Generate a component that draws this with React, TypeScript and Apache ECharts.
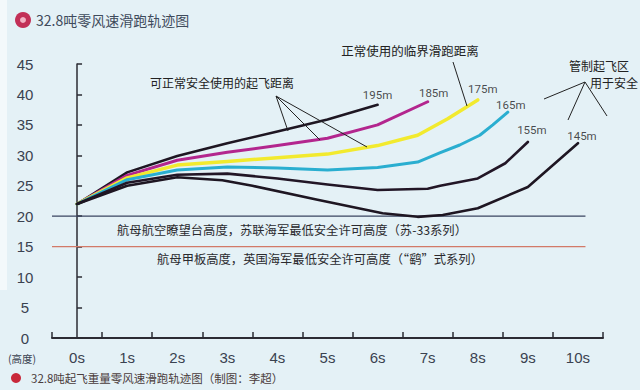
import React, { useEffect, useRef } from "react";
import * as echarts from "echarts";

// ---- data ----
const timeLabels = ["0s", "1s", "2s", "3s", "4s", "5s", "6s", "7s", "8s", "9s", "10s"];
const yMin = 0;
const yMax = 45;
const yStep = 5;

// [time (s), height]
const track195 = [[0, 22], [1, 27.2], [2, 29.9], [3, 32.0], [4, 33.9], [5, 35.9], [6, 38.3]];
const track185 = [[0, 22], [1, 26.7], [2, 29.2], [3, 30.5], [4, 31.6], [5, 32.8], [6, 35.0], [7, 38.8]];
const track175 = [[0, 22], [1, 26.3], [2, 28.4], [3, 29.0], [4, 29.6], [5, 30.2], [6, 31.6], [6.8, 33.3], [7.4, 36.0], [8, 39.1]];
const track165 = [[0, 22], [1, 26.0], [2, 27.6], [3, 28.1], [4, 27.9], [5, 27.6], [6, 28.0], [6.8, 28.9], [7.24, 30.4], [7.64, 31.7], [8.04, 33.3], [8.3, 35.0], [8.6, 37.1]];
const track155 = [[0, 22], [1, 25.5], [2, 26.8], [3, 27.0], [4, 26.2], [5, 25.2], [6, 24.3], [7, 24.5], [7.25, 25.0], [8, 26.2], [8.55, 28.7], [9, 32.2]];
const track145 = [[0, 22], [1, 25.0], [2, 26.4], [2.9, 25.9], [3.5, 25.0], [4.8, 22.7], [6.1, 20.5], [6.8, 19.9], [7.3, 20.2], [8, 21.3], [9, 24.8], [10, 32.0]];
const trackNames = ["195m", "185m", "175m", "165m", "155m", "145m"];

const refHeights = [20, 15];
const refStart = -0.5;
const refEnd = 10.15;
const refTexts = [
  "航母航空瞭望台高度，苏联海军最低安全许可高度（苏-33系列）",
  "航母甲板高度，英国海军最低安全许可高度（“鹞”式系列）",
];

const titleText = "32.8吨零风速滑跑轨迹图";
const captionText = "32.8吨起飞重量零风速滑跑轨迹图（制图：李超）";
const noteSafe = "可正常安全使用的起飞距离";
const noteCritical = "正常使用的临界滑跑距离";
const noteControl1 = "管制起飞区";
const noteControl2 = "用于安全";
const yUnit = "(高度)";

export default function App() {
  const ref = useRef<HTMLDivElement>(null);

  useEffect(() => {
    if (!ref.current) return;
    const chart = echarts.init(ref.current, null, { renderer: "svg" });

    const tracks = [
      { data: track195, color: "#1e1622", width: 2.6, offset: [0, 2] },
      { data: track185, color: "#b3268e", width: 3, offset: [6, 3] },
      { data: track175, color: "#f2ea2e", width: 3.5, offset: [5, 1] },
      { data: track165, color: "#2aaed0", width: 3, offset: [3, 4] },
      { data: track155, color: "#221626", width: 2.6, offset: [4, 0] },
      { data: track145, color: "#1e1622", width: 2.6, offset: [4, 4] },
    ];

    const refColors = ["#3a4560", "#d27a68"];
    const font = "Liberation Sans, Arial, sans-serif";
    const cjk = "'Noto Sans CJK SC', sans-serif";
    const axisColor = "#2b2b33";

    const lineSeries: any[] = tracks.map((t, i) => ({
      type: "line",
      name: trackNames[i],
      xAxisIndex: 1,
      yAxisIndex: 0,
      data: t.data,
      showSymbol: false,
      smooth: false,
      silent: true,
      z: 3,
      lineStyle: { color: t.color, width: t.width, cap: "round", join: "round" },
    }));

    const refSeries: any[] = refHeights.map((h, i) => ({
      type: "line",
      xAxisIndex: 1,
      yAxisIndex: 0,
      data: [[refStart, h], [refEnd, h]],
      showSymbol: false,
      silent: true,
      z: 2,
      lineStyle: { color: refColors[i], width: 1.3 },
    }));

    const labelSeries = {
      type: "scatter",
      xAxisIndex: 1,
      yAxisIndex: 0,
      symbolSize: 1,
      silent: true,
      z: 4,
      itemStyle: { color: "rgba(0,0,0,0)" },
      data: tracks.map((t, i) => ({
        value: t.data[t.data.length - 1],
        name: trackNames[i],
        label: {
          show: true,
          position: "top",
          formatter: trackNames[i],
          offset: t.offset,
          fontSize: 11.5,
          fontFamily: "Roboto, sans-serif",
          color: "#1c1c22",
        },
      })),
    };

    const option: any = {
      animation: false,
      backgroundColor: "#e4f1f6",
      grid: { left: 52, right: 37, top: 64, bottom: 52, containLabel: false },
      xAxis: [
        {
          type: "category",
          data: timeLabels,
          boundaryGap: true,
          axisLine: { show: true, lineStyle: { color: axisColor, width: 2 } },
          axisTick: { show: true, inside: true, length: 6, alignWithLabel: false, interval: 0, lineStyle: { color: axisColor, width: 1.5 } },
          axisLabel: { interval: 0, fontSize: 15, margin: 12, color: "#3a4250", fontFamily: font },
          splitLine: { show: false },
        },
        { type: "value", min: -0.5, max: 10.5, show: false },
      ],
      yAxis: {
        type: "value",
        min: yMin,
        max: yMax,
        interval: yStep,
        axisLine: { show: true, lineStyle: { color: axisColor, width: 1.5 } },
        axisTick: { show: true, inside: true, length: 5, lineStyle: { color: axisColor, width: 1.5 } },
        splitLine: { show: false },
        axisLabel: { color: "#3a4250", fontSize: 15, fontFamily: font, align: "center", margin: 27 },
      },
      series: [...refSeries, ...lineSeries, labelSeries],
      graphic: [
        { type: "rect", shape: { x: 0, y: 0, width: 7, height: 290 }, style: { fill: "#f3f9fb" }, silent: true, z: 0 },
        // title
        { type: "circle", shape: { cx: 23, cy: 20, r: 8 }, style: { fill: "#c23057" }, z: 10 },
        { type: "circle", shape: { cx: 23, cy: 20, r: 3 }, style: { fill: "#f2b3c4" }, z: 11 },
        {
          type: "text", x: 36, y: 20, z: 10,
          style: { text: titleText, fontSize: 14, fontFamily: cjk, fill: "#3f4b5c", textAlign: "left", textVerticalAlign: "middle" },
        },
        // annotations
        {
          type: "text", x: 222, y: 82, z: 10,
          style: { text: noteSafe, fontSize: 12, fontFamily: cjk, fill: "#222", textAlign: "center", textVerticalAlign: "middle" },
        },
        { type: "line", shape: { x1: 276, y1: 96, x2: 288, y2: 131 }, style: { stroke: "#222", lineWidth: 1 }, z: 10 },
        { type: "line", shape: { x1: 276, y1: 96, x2: 320, y2: 140 }, style: { stroke: "#222", lineWidth: 1 }, z: 10 },
        { type: "line", shape: { x1: 276, y1: 96, x2: 367, y2: 147 }, style: { stroke: "#222", lineWidth: 1 }, z: 10 },
        {
          type: "text", x: 410, y: 50, z: 10,
          style: { text: noteCritical, fontSize: 12.5, fontFamily: cjk, fill: "#222", textAlign: "center", textVerticalAlign: "middle" },
        },
        { type: "line", shape: { x1: 453, y1: 62, x2: 467, y2: 106 }, style: { stroke: "#222", lineWidth: 1 }, z: 10 },
        {
          type: "text", x: 569, y: 65, z: 10,
          style: { text: noteControl1, fontSize: 12, fontFamily: cjk, fill: "#222", textAlign: "left", textVerticalAlign: "middle" },
        },
        {
          type: "text", x: 590, y: 82, z: 10,
          style: { text: noteControl2, fontSize: 12, fontFamily: cjk, fill: "#222", textAlign: "left", textVerticalAlign: "middle" },
        },
        { type: "line", shape: { x1: 585, y1: 82, x2: 544, y2: 99 }, style: { stroke: "#222", lineWidth: 1 }, z: 10 },
        { type: "line", shape: { x1: 585, y1: 82, x2: 568, y2: 120 }, style: { stroke: "#222", lineWidth: 1 }, z: 10 },
        { type: "line", shape: { x1: 585, y1: 82, x2: 607, y2: 116 }, style: { stroke: "#222", lineWidth: 1 }, z: 10 },
        // reference line texts
        {
          type: "text", x: 292, y: 230, z: 10,
          style: { text: refTexts[0], fontSize: 12.3, fontFamily: cjk, fill: "#2a2a2e", textAlign: "center", textVerticalAlign: "middle" },
        },
        {
          type: "text", x: 320, y: 259, z: 10,
          style: { text: refTexts[1], fontSize: 12.3, fontFamily: cjk, fill: "#2a2a2e", textAlign: "center", textVerticalAlign: "middle" },
        },
        // y unit
        {
          type: "text", x: 22, y: 358, z: 10,
          style: { text: yUnit, fontSize: 10.5, fontFamily: cjk, fill: "#3a4250", textAlign: "center", textVerticalAlign: "middle" },
        },
        // caption
        { type: "circle", shape: { cx: 16, cy: 378, r: 5 }, style: { fill: "#c8283a" }, z: 10 },
        {
          type: "text", x: 31, y: 378, z: 10,
          style: { text: captionText, fontSize: 11.5, fontFamily: cjk, fill: "#4a3c3c", textAlign: "left", textVerticalAlign: "middle" },
        },
      ],
    };

    chart.setOption(option);
    return () => chart.dispose();
  }, []);

  return (
    <div
      ref={ref}
      style={{ position: "absolute", left: 0, top: 0, width: 640, height: 390 }}
    />
  );
}
